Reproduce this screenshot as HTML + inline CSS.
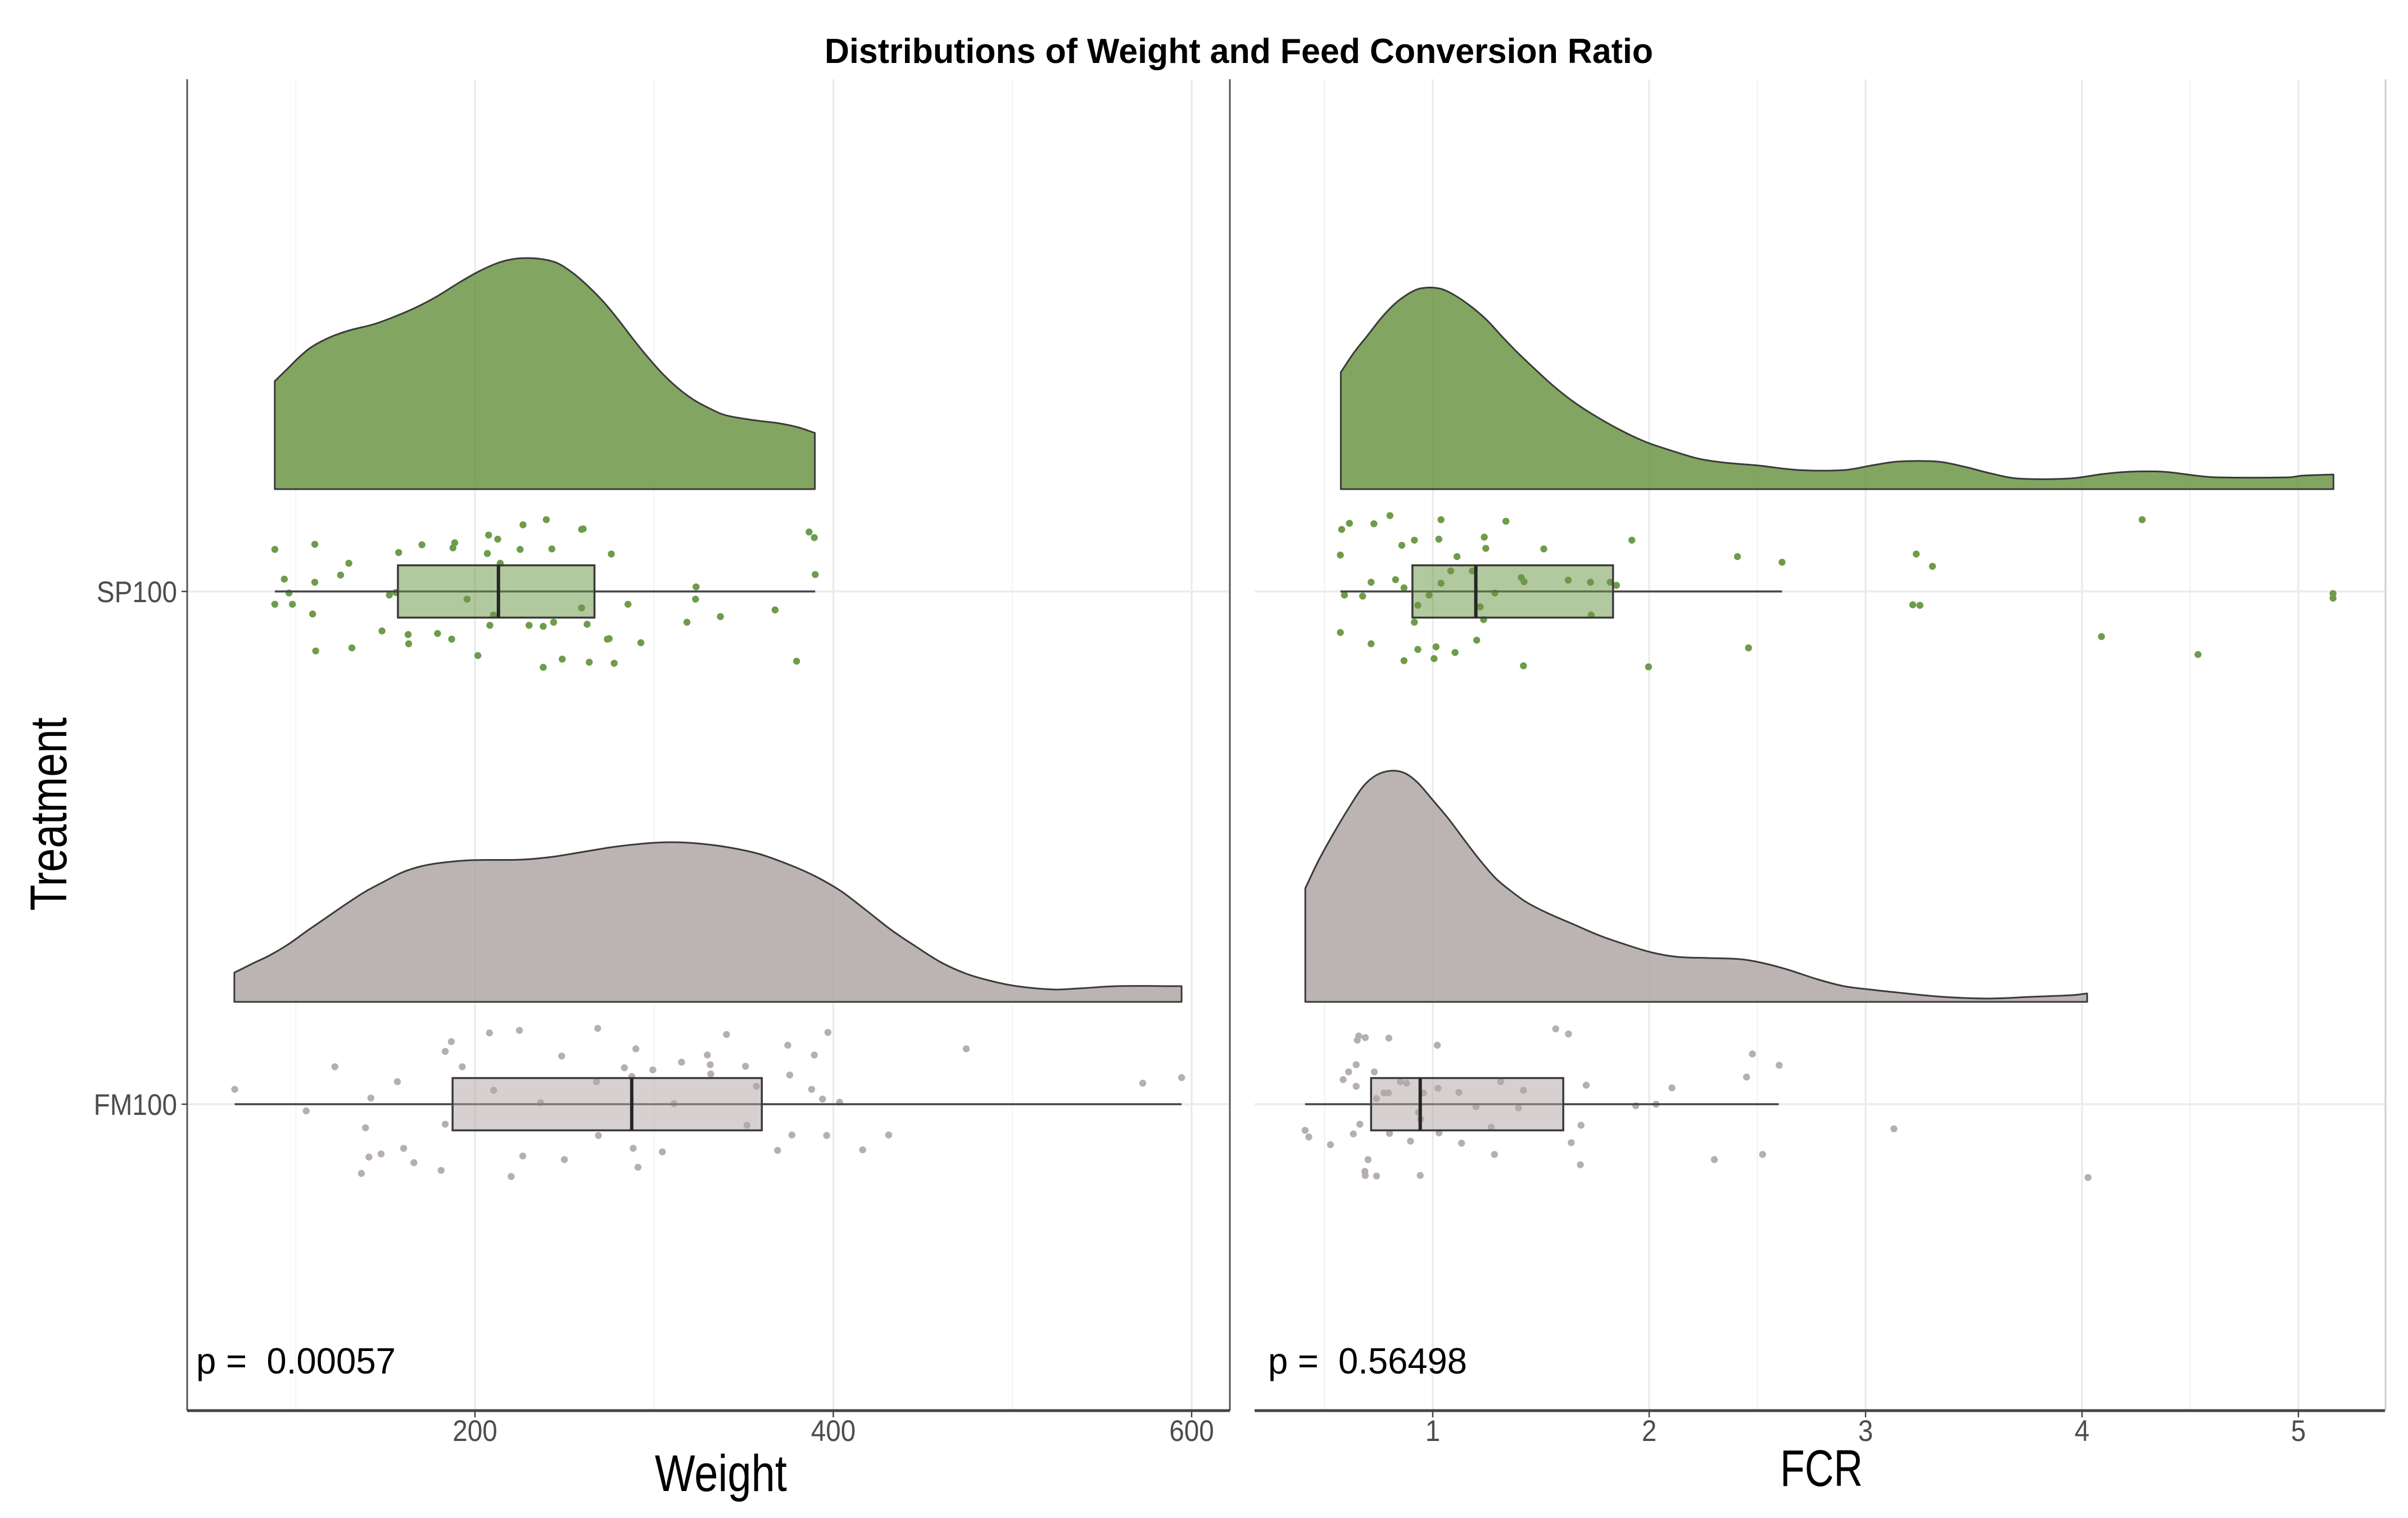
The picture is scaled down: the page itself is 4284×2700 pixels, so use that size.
<!DOCTYPE html>
<html lang="en">
<head>
<meta charset="utf-8">
<title>Distributions of Weight and Feed Conversion Ratio</title>
<style>
html,body{margin:0;padding:0;background:#fff;}
svg{display:block;}
text{font-family:"Liberation Sans",Arial,sans-serif;}
</style>
</head>
<body>
<svg id="chart" xmlns="http://www.w3.org/2000/svg" width="4284" height="2700" viewBox="0 0 4284 2700">
  <rect x="0" y="0" width="4284" height="2700" fill="#ffffff"/>
  <g id="grid"></g>
  <g id="marks"></g>
  <g id="axes"></g>
  <text x="1467" y="112" font-size="62" font-weight="700" fill="#000" textLength="1474" lengthAdjust="spacingAndGlyphs">Distributions of Weight and Feed Conversion Ratio</text>
  <text transform="translate(118,1620) rotate(-90)" font-size="92" fill="#000" textLength="344" lengthAdjust="spacingAndGlyphs">Treatment</text>
  <text x="1165" y="2652" font-size="92" fill="#000" textLength="235" lengthAdjust="spacingAndGlyphs">Weight</text>
  <text x="3167" y="2643" font-size="92" fill="#000" textLength="147" lengthAdjust="spacingAndGlyphs">FCR</text>
  <text x="349" y="2443" font-size="65" fill="#000" textLength="355" lengthAdjust="spacingAndGlyphs">p =&#160; 0.00057</text>
  <text x="2256" y="2443" font-size="65" fill="#000" textLength="354" lengthAdjust="spacingAndGlyphs">p =&#160; 0.56498</text>
</svg>
<script>
// ---- Categories and tick labels ----
const categories = ["FM100", "SP100"];
const weightMajorTicks = [200, 400, 600];
const weightMinorTicks = [100, 300, 500];
const fcrMajorTicks = [1, 2, 3, 4, 5];
const fcrMinorTicks = [0.5, 2.5, 4.5];

// ---- Density curves (value grid + relative density) ----
const spWeightDensityX = [88.25,95,101.3,107.5,113.8,121.2,130.6,143.2,153.7,166.3,178.9,191.5,202,212.5,220.8,229.2,237.6,246,254.4,262.8,271.2,279.6,288,296.4,304.8,313.2,321.5,330,338.3,346.7,357.2,369.8,380.3,389.7];
const spWeightDensityY = [0.192,0.213,0.233,0.25,0.262,0.273,0.283,0.293,0.305,0.322,0.343,0.368,0.387,0.402,0.409,0.411,0.409,0.402,0.385,0.362,0.335,0.303,0.268,0.235,0.205,0.18,0.16,0.145,0.133,0.127,0.122,0.117,0.11,0.1];
const fmWeightDensityX = [65.7,75.1,85.6,96.1,106.6,117.1,127.6,138.2,148.7,159.2,169.7,180.2,197.7,225.7,243.2,260.7,278.2,295.7,309.7,323.7,341.2,358.7,376.2,390.2,404.3,418.3,432.3,446.3,460.3,474.3,488.3,502.3,523.3,537.3,558.3,594.4];
const fmWeightDensityY = [0.052,0.067,0.083,0.103,0.127,0.15,0.173,0.195,0.213,0.23,0.241,0.247,0.252,0.253,0.258,0.267,0.276,0.282,0.284,0.282,0.275,0.263,0.243,0.223,0.197,0.163,0.128,0.098,0.07,0.05,0.037,0.028,0.022,0.024,0.028,0.028];
const spFcrDensityX = [0.575,0.636,0.698,0.759,0.82,0.881,0.943,1.029,1.096,1.173,1.249,1.326,1.402,1.479,1.556,1.648,1.739,1.862,1.984,2.107,2.23,2.352,2.505,2.689,2.904,3.026,3.149,3.333,3.455,3.578,3.7,3.945,4.099,4.221,4.374,4.528,4.62,4.957,5.018,5.162];
const spFcrDensityY = [0.208,0.243,0.273,0.303,0.328,0.346,0.357,0.357,0.346,0.326,0.301,0.269,0.239,0.211,0.184,0.156,0.133,0.106,0.084,0.068,0.054,0.047,0.042,0.034,0.034,0.042,0.049,0.049,0.04,0.028,0.019,0.019,0.027,0.031,0.031,0.024,0.021,0.021,0.024,0.026];
const fmFcrDensityX = [0.411,0.473,0.545,0.617,0.678,0.738,0.805,0.87,0.93,1.002,1.074,1.146,1.218,1.29,1.362,1.434,1.53,1.65,1.771,1.891,2.011,2.131,2.275,2.419,2.515,2.635,2.779,2.899,3.02,3.164,3.356,3.572,3.764,3.956,4.024];
const fmFcrDensityY = [0.202,0.252,0.302,0.348,0.383,0.403,0.411,0.407,0.39,0.358,0.325,0.288,0.252,0.22,0.197,0.177,0.158,0.138,0.118,0.102,0.088,0.08,0.078,0.076,0.07,0.058,0.04,0.028,0.022,0.016,0.009,0.006,0.009,0.012,0.015];

// ---- Box statistics: [low whisker, q1, median, q3, high whisker] ----
const spWeightBox = [88.3,157,213.1,266.7,389.9];
const fmWeightBox = [65.9,187.5,287.5,360.1,594.4];
const spFcrBox = [0.573,0.906,1.199,1.833,2.614];
const fmFcrBox = [0.41,0.715,0.942,1.603,2.599];

// ---- Raw observations and their vertical jitter (category units) ----
const spWeightValues = [88.3,110.6,129.6,125,93.6,110.6,96.2,88.3,98.1,109.4,111.1,131.3,148.1,162.7,163,179.1,187,201.6,208.3,210.3,195.6,230.2,238.1,243.9,238.1,248.7,263.8,277.7,262.6,273.9,274.9,292.6,259.5,285.4,318.3,323.1,323.4,337,367.5,379.5,389.9,386.5,389.4,276.1,242.9,225.2,206.9,214.1,212.7,207.6,226.8,239.8,259.5,260.4,188.7,187.7,170.4,157.4,155.8,152.2];
const spWeightJitter = [0.082,0.092,0.055,0.032,0.024,0.018,-0.003,-0.025,-0.025,-0.044,-0.116,-0.11,-0.077,-0.084,-0.102,-0.082,-0.093,-0.125,-0.066,-0.046,-0.015,-0.066,-0.068,-0.06,-0.148,-0.132,-0.138,-0.14,-0.064,-0.093,-0.092,-0.1,-0.032,-0.025,-0.06,-0.015,0.009,-0.049,-0.036,-0.136,0.033,0.116,0.105,0.073,0.083,0.082,0.074,0.055,0.102,0.11,0.13,0.14,0.121,0.122,0.095,0.085,0.091,0.076,-0.002,-0.007];
const spFcrValues = [0.802,0.615,0.728,0.579,1.038,1.338,0.915,1.028,1.238,0.857,1.245,1.513,0.573,1.112,1.92,2.408,2.614,3.234,3.309,4.278,1.083,1.183,0.715,0.828,0.867,1.038,1.409,1.422,1.626,1.729,1.82,1.849,0.592,0.676,0.983,1.287,0.931,1.219,1.732,0.915,1.235,0.573,0.715,0.931,1.015,1.103,1.203,0.867,1.006,1.419,1.997,2.459,3.218,3.251,4.09,4.536,5.16,5.16];
const spFcrJitter = [0.148,0.133,0.132,0.121,0.14,0.137,0.1,0.102,0.106,0.09,0.084,0.083,0.071,0.068,0.1,0.068,0.057,0.073,0.049,0.14,0.04,0.04,0.018,0.023,0.007,0.016,0.027,0.019,0.022,0.018,0.018,0.012,-0.007,-0.009,-0.007,-0.003,-0.027,-0.03,-0.046,-0.06,-0.055,-0.08,-0.102,-0.113,-0.108,-0.119,-0.095,-0.135,-0.131,-0.145,-0.147,-0.11,-0.026,-0.027,-0.088,-0.123,-0.004,-0.013];
const fmWeightValues = [65.9,121.8,105.8,141.9,156.7,186.8,183.4,192.9,208.1,224.8,268.5,248.4,289.8,329.7,340.4,397,374.6,389.4,474.2,315.3,331.3,351,283.4,299.3,331.6,375.7,287.5,267.8,210.4,357.1,387.9,394,403.5,236.6,311.1,572.7,594.4,183.4,138.9,351.8,268.9,376.9,396.3,430.9,160.2,147.6,140.8,165.9,181.1,136.6,220.2,226.7,249.9,288.3,304.6,291,368.9,416.4];
const fmWeightJitter = [0.029,0.073,-0.013,0.012,0.044,0.122,0.103,0.073,0.139,0.144,0.148,0.094,0.108,0.096,0.136,0.14,0.115,0.096,0.108,0.082,0.077,0.074,0.071,0.067,0.059,0.057,0.054,0.044,0.027,0.035,0.029,0.01,0.004,0.003,0.001,0.041,0.052,-0.039,-0.046,-0.041,-0.061,-0.06,-0.061,-0.06,-0.086,-0.097,-0.103,-0.114,-0.129,-0.135,-0.141,-0.101,-0.108,-0.086,-0.093,-0.123,-0.09,-0.089];
const fmFcrValues = [0.658,0.688,0.651,0.797,1.021,1.568,1.627,2.477,2.601,2.45,0.646,0.611,0.73,0.586,0.646,0.85,0.879,1.314,1.709,2.105,0.775,0.795,0.957,1.024,1.121,1.419,0.74,1.2,1.396,1.938,2.032,0.934,0.944,0.663,1.27,1.685,0.41,0.427,0.633,0.8,1.029,0.897,1.133,0.527,1.64,0.701,1.285,1.682,2.301,2.524,3.131,0.686,0.688,0.74,0.942,4.028];
const fmFcrJitter = [0.133,0.13,0.125,0.129,0.115,0.147,0.137,0.098,0.076,0.053,0.077,0.063,0.063,0.048,0.035,0.044,0.041,0.044,0.037,0.032,0.022,0.022,0.022,0.031,0.023,0.027,0.011,-0.005,-0.007,-0.003,0,-0.016,-0.029,-0.039,-0.045,-0.041,-0.051,-0.064,-0.058,-0.057,-0.056,-0.072,-0.076,-0.079,-0.075,-0.108,-0.098,-0.118,-0.108,-0.098,-0.048,-0.131,-0.139,-0.14,-0.139,-0.143];

// ---- Axis functions ----
const xWeight = v => 845 + (v - 200) * 3.1875;
const xFcr = v => 2549 + (v - 1) * 385;
const yCat = c => 1964 - (c - 1) * 912;
const yDensity = (c, d) => yCat(c) - 182 - d * 1000;

const SVGNS = "http://www.w3.org/2000/svg";
const gridG = document.getElementById("grid");
const marksG = document.getElementById("marks");
const axesG = document.getElementById("axes");
const PANEL_TOP = 141, PANEL_BOTTOM = 2509;
const panels = { weight: [333, 2188], fcr: [2232, 4243] };

function mk(tag, attrs, parent) {
  const n = document.createElementNS(SVGNS, tag);
  for (const k in attrs) n.setAttribute(k, attrs[k]);
  parent.appendChild(n);
  return n;
}

// Cubic Hermite path with slopes taken over the neighbouring points, so
// unevenly spaced samples do not produce kinks.
function smoothPath(px, py) {
  const n = px.length;
  const slope = px.map((_, i) => {
    const a = Math.max(i - 1, 0), b = Math.min(i + 1, n - 1);
    return (py[b] - py[a]) / (px[b] - px[a]);
  });
  let d = "M" + px[0].toFixed(1) + " " + py[0].toFixed(1);
  for (let i = 0; i < n - 1; i++) {
    const h = (px[i + 1] - px[i]) / 3;
    d += "C" + (px[i] + h).toFixed(1) + " " + (py[i] + slope[i] * h).toFixed(1) + " " + (px[i + 1] - h).toFixed(1) + " " + (py[i + 1] - slope[i + 1] * h).toFixed(1) + " " + px[i + 1].toFixed(1) + " " + py[i + 1].toFixed(1);
  }
  return d;
}

// ---- Grid lines ----
function drawVerticalGrid(ticks, xFn, stroke, width, name) {
  ticks.forEach(t => {
    const line = mk("line", { x1: xFn(t), x2: xFn(t), y1: PANEL_TOP, y2: PANEL_BOTTOM, stroke: stroke, "stroke-width": width }, gridG);
    
    
  });
}
drawVerticalGrid(weightMinorTicks, xWeight, "#f3f3f3", 2, "weight-minor-gridline");
drawVerticalGrid(weightMajorTicks, xWeight, "#e9e9e9", 3, "weight-major-gridline");
drawVerticalGrid(fcrMinorTicks, xFcr, "#f0f0f0", 2, "fcr-minor-gridline");
drawVerticalGrid(fcrMajorTicks, xFcr, "#e9e9e9", 3, "fcr-major-gridline");
categories.forEach((cat, i) => {
  [panels.weight, panels.fcr].forEach(p => {
    const line = mk("line", { x1: p[0], x2: p[1], y1: yCat(i + 1), y2: yCat(i + 1), stroke: "#ececec", "stroke-width": 3.5 }, gridG);
    
    
  });
});

// ---- Raincloud marks ----
function drawCloud(prefix, catIndex, xFn, dx, dy, box, values, jitter, fill, pointFill) {
  const c = catIndex + 1;
  const px = dx.map(xFn);
  const py = dy.map(d => yDensity(c, d));
  const base = yDensity(c, 0);
  const d = smoothPath(px, py) + "L" + px[px.length - 1].toFixed(1) + " " + base + "L" + px[0].toFixed(1) + " " + base + "Z";
  const area = mk("path", { d: d, fill: fill, "fill-opacity": 0.85, stroke: "#3a3a3a", "stroke-width": 3, "stroke-linejoin": "round" }, marksG);
  
  

  values.forEach((v, i) => {
    const pt = mk("circle", { cx: xFn(v), cy: yCat(c + jitter[i]), r: 6.2, fill: pointFill }, marksG);
    
    
  });

  const whisker = mk("line", { x1: xFn(box[0]), x2: xFn(box[4]), y1: yCat(c), y2: yCat(c), stroke: "#444444", "stroke-width": 3.5 }, marksG);
  
  

  const hw = 0.051;
  const boxFill = mk("rect", { x: xFn(box[1]), y: yCat(c + hw), width: xFn(box[3]) - xFn(box[1]), height: yCat(c - hw) - yCat(c + hw), fill: fill, "fill-opacity": 0.52, stroke: "#3a3a3a", "stroke-width": 3.5 }, marksG);
  
  
  const median = mk("line", { x1: xFn(box[2]), x2: xFn(box[2]), y1: yCat(c + hw), y2: yCat(c - hw), stroke: "#262626", "stroke-width": 6 }, marksG);
  
  
}
const GREEN = "#6c9545", GREY = "#b0a7a4", GREEN_PT = "#6d9c4b", GREY_PT = "#b7afad";
drawCloud("sp100-weight", 1, xWeight, spWeightDensityX, spWeightDensityY, spWeightBox, spWeightValues, spWeightJitter, GREEN, GREEN_PT);
drawCloud("fm100-weight", 0, xWeight, fmWeightDensityX, fmWeightDensityY, fmWeightBox, fmWeightValues, fmWeightJitter, GREY, GREY_PT);
drawCloud("sp100-fcr", 1, xFcr, spFcrDensityX, spFcrDensityY, spFcrBox, spFcrValues, spFcrJitter, GREEN, GREEN_PT);
drawCloud("fm100-fcr", 0, xFcr, fmFcrDensityX, fmFcrDensityY, fmFcrBox, fmFcrValues, fmFcrJitter, GREY, GREY_PT);

// ---- Axes ----
const weightYAxis = mk("line", { x1: 333, x2: 333, y1: PANEL_TOP, y2: PANEL_BOTTOM, stroke: "#555555", "stroke-width": 3 }, axesG);


const fcrYAxis = mk("line", { x1: 2188, x2: 2188, y1: PANEL_TOP, y2: PANEL_BOTTOM, stroke: "#555555", "stroke-width": 3 }, axesG);


const rightEdge = mk("line", { x1: 4244, x2: 4244, y1: PANEL_TOP, y2: PANEL_BOTTOM, stroke: "#cfcfcf", "stroke-width": 3 }, axesG);


const weightXAxis = mk("line", { x1: 333, x2: panels.weight[1], y1: PANEL_BOTTOM, y2: PANEL_BOTTOM, stroke: "#444444", "stroke-width": 5 }, axesG);


const fcrXAxis = mk("line", { x1: panels.fcr[0], x2: panels.fcr[1], y1: PANEL_BOTTOM, y2: PANEL_BOTTOM, stroke: "#444444", "stroke-width": 5 }, axesG);



function drawXTicks(ticks, xFn, name) {
  ticks.forEach(t => {
    const tk = mk("line", { x1: xFn(t), x2: xFn(t), y1: PANEL_BOTTOM, y2: PANEL_BOTTOM + 12, stroke: "#444444", "stroke-width": 2.5 }, axesG);
    
    
    const lb = mk("text", { transform: "translate(" + xFn(t) + ",2563) scale(0.9,1)", "text-anchor": "middle", "font-size": 53, fill: "#4d4d4d" }, axesG);
    lb.textContent = String(t);
    
    
  });
}
drawXTicks(weightMajorTicks, xWeight, "weight");
drawXTicks(fcrMajorTicks, xFcr, "fcr");

categories.forEach((cat, i) => {
  const y = yCat(i + 1);
  const tk = mk("line", { x1: 323, x2: 333, y1: y, y2: y, stroke: "#444444", "stroke-width": 2.5 }, axesG);
  
  
  const lb = mk("text", { transform: "translate(315," + (y + 19) + ") scale(0.9,1)", "text-anchor": "end", "font-size": 53, fill: "#4d4d4d" }, axesG);
  lb.textContent = cat;
  
  
});
</script>
</body>
</html>
